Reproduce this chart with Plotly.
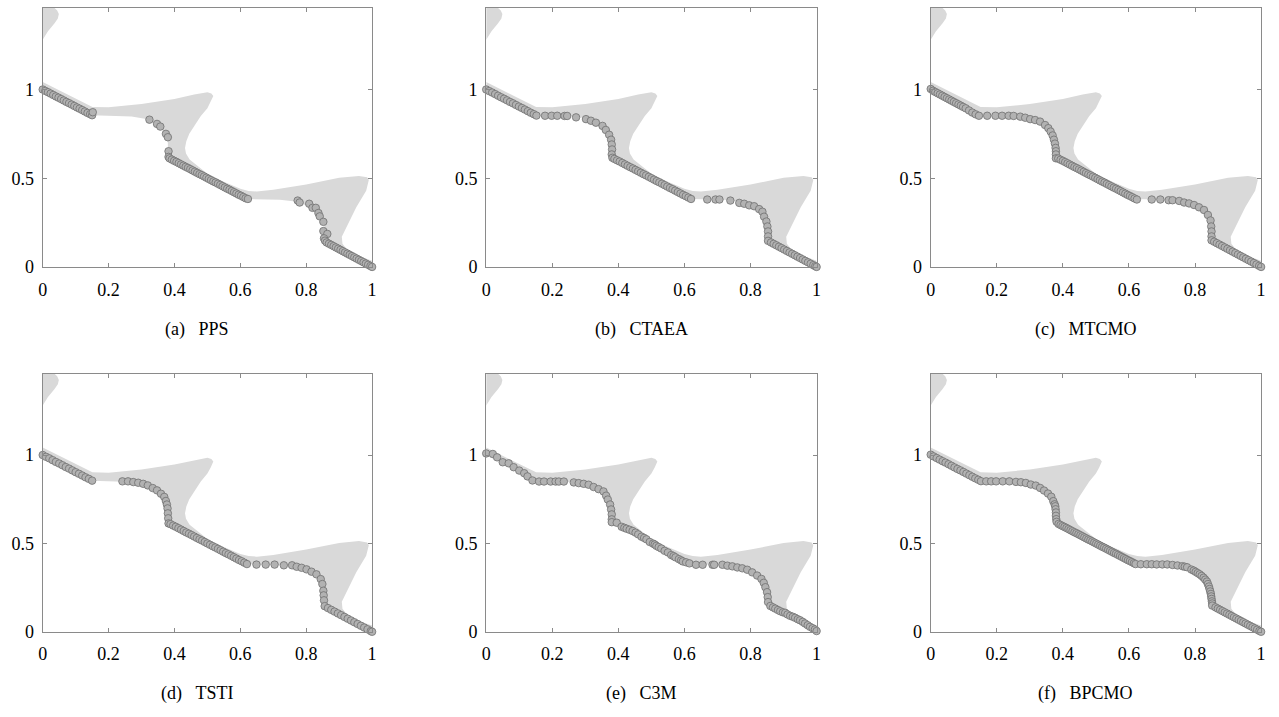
import plotly.graph_objects as go

# ---------------- data ----------------
X_TICKS = [0, 0.2, 0.4, 0.6, 0.8, 1]
X_TICK_TEXT = ["0", "0.2", "0.4", "0.6", "0.8", "1"]
Y_TICKS = [0, 0.5, 1]
Y_TICK_TEXT = ["0", "0.5", "1"]

# feasible region (grey) boundary
REGION_X = [0.0, 0.05, 0.10, 0.151, 0.20, 0.30, 0.40, 0.46, 0.50, 0.512, 0.518, 0.51, 0.50, 0.48,
            0.462, 0.445, 0.436, 0.432, 0.435, 0.446, 0.50, 0.55, 0.60, 0.625, 0.65, 0.70, 0.80, 0.90,
            0.96, 0.985, 0.99, 0.982, 0.952, 0.922, 0.908, 0.91, 0.925, 0.962, 1.0, 1.0,
            0.855, 0.855, 0.85, 0.84, 0.82, 0.79, 0.76, 0.72, 0.62, 0.38, 0.38, 0.375, 0.36, 0.34,
            0.31, 0.27, 0.20, 0.15, 0.0]
REGION_Y = [1.042, 0.995, 0.948, 0.902, 0.900, 0.918, 0.946, 0.972, 0.985, 0.978, 0.963, 0.93, 0.895, 0.85,
            0.80, 0.75, 0.708, 0.67, 0.64, 0.606, 0.525, 0.48, 0.44, 0.428, 0.425, 0.435, 0.465, 0.502,
            0.513, 0.505, 0.49, 0.43, 0.337, 0.226, 0.17, 0.13, 0.095, 0.06, 0.035, 0.0,
            0.145, 0.24, 0.27, 0.30, 0.33, 0.355, 0.37, 0.378, 0.383, 0.617, 0.70, 0.74, 0.78, 0.81,
            0.835, 0.848, 0.853, 0.855, 1.0]
TONGUE_X = [0.0, 0.016, 0.036, 0.046, 0.049, 0.044, 0.03, 0.0]
TONGUE_Y = [1.28, 1.328, 1.374, 1.40, 1.425, 1.445, 1.47, 1.47]

# obtained solutions
PPS_X = [0, 0.008, 0.016, 0.024, 0.032, 0.04, 0.048, 0.056, 0.064, 0.072, 0.08, 0.088, 0.096, 0.104,
         0.112, 0.12, 0.128, 0.136, 0.144, 0.15, 0.152,
         0.324, 0.347, 0.357, 0.374, 0.38, 0.382, 0.382,
         0.385, 0.392, 0.399, 0.406, 0.413, 0.420, 0.427, 0.434, 0.441, 0.448, 0.455, 0.462, 0.469,
         0.476, 0.483, 0.490, 0.497, 0.504, 0.511, 0.518, 0.525, 0.532, 0.539, 0.546, 0.553, 0.560,
         0.567, 0.574, 0.581, 0.588, 0.595, 0.602, 0.609, 0.616, 0.623,
         0.774, 0.78, 0.809, 0.819, 0.829, 0.837, 0.841, 0.852, 0.852, 0.864, 0.854, 0.857,
         0.862, 0.869, 0.876, 0.883, 0.890, 0.897, 0.904, 0.911, 0.918, 0.925, 0.932, 0.939, 0.946,
         0.953, 0.960, 0.967, 0.974, 0.981, 0.988, 0.995, 1.0]
PPS_Y = [1.0, 0.992, 0.985, 0.977, 0.969, 0.961, 0.954, 0.946, 0.938, 0.930, 0.923, 0.915, 0.907, 0.899,
         0.892, 0.884, 0.876, 0.868, 0.861, 0.855, 0.872,
         0.83, 0.806, 0.791, 0.75, 0.731, 0.652, 0.62,
         0.612, 0.605, 0.598, 0.592, 0.585, 0.578, 0.571, 0.564, 0.558, 0.551, 0.544, 0.537, 0.530,
         0.523, 0.517, 0.510, 0.503, 0.496, 0.489, 0.482, 0.476, 0.469, 0.462, 0.455, 0.448, 0.441,
         0.435, 0.428, 0.421, 0.414, 0.407, 0.401, 0.394, 0.387, 0.383,
         0.374, 0.363, 0.356, 0.333, 0.333, 0.304, 0.285, 0.254, 0.202, 0.186, 0.161, 0.148,
         0.138, 0.131, 0.124, 0.117, 0.110, 0.103, 0.096, 0.089, 0.082, 0.075, 0.068, 0.061, 0.054,
         0.047, 0.040, 0.033, 0.026, 0.019, 0.012, 0.005, 0.0]

CTAEA_X = [0, 0.009, 0.018, 0.027, 0.036, 0.045, 0.054, 0.063, 0.072, 0.081, 0.090, 0.099, 0.108,
           0.117, 0.126, 0.135, 0.144, 0.152,
           0.178, 0.198, 0.215, 0.237, 0.245, 0.272,
           0.302, 0.317, 0.332, 0.352, 0.362, 0.372, 0.378, 0.38, 0.381, 0.38, 0.382,
           0.388, 0.396, 0.404, 0.412, 0.420, 0.428, 0.436, 0.444, 0.452, 0.460, 0.468, 0.476, 0.484,
           0.492, 0.500, 0.508, 0.516, 0.524, 0.532, 0.540, 0.548, 0.556, 0.564, 0.572, 0.580, 0.588,
           0.596, 0.604, 0.612, 0.620,
           0.669, 0.694, 0.706, 0.739, 0.766, 0.781, 0.796, 0.811, 0.826, 0.836, 0.841, 0.848, 0.851,
           0.853, 0.853, 0.853,
           0.862, 0.870, 0.878, 0.886, 0.894, 0.902, 0.910, 0.918, 0.926, 0.934, 0.942, 0.950, 0.958,
           0.966, 0.974, 0.982, 0.990, 0.996, 1.0]
CTAEA_Y = [1.0, 0.991, 0.983, 0.974, 0.965, 0.956, 0.948, 0.939, 0.930, 0.922, 0.913, 0.904, 0.896,
           0.887, 0.878, 0.869, 0.861, 0.853,
           0.852, 0.852, 0.852, 0.851, 0.851, 0.843,
           0.833, 0.824, 0.813, 0.795, 0.772, 0.745, 0.717, 0.69, 0.662, 0.634, 0.615,
           0.609, 0.601, 0.594, 0.586, 0.578, 0.570, 0.562, 0.555, 0.547, 0.539, 0.531, 0.523, 0.516,
           0.508, 0.500, 0.492, 0.484, 0.477, 0.469, 0.461, 0.453, 0.445, 0.438, 0.430, 0.422, 0.414,
           0.406, 0.399, 0.391, 0.383,
           0.38, 0.38, 0.38, 0.374, 0.361, 0.356, 0.347, 0.342, 0.326, 0.311, 0.283, 0.256, 0.228,
           0.2, 0.172, 0.147,
           0.138, 0.130, 0.122, 0.114, 0.106, 0.098, 0.090, 0.082, 0.074, 0.066, 0.058, 0.050, 0.042,
           0.034, 0.026, 0.018, 0.010, 0.004, 0.0]

MTCMO_X = [0, 0.007, 0.014, 0.021, 0.028, 0.035, 0.042, 0.049, 0.056, 0.063, 0.070, 0.077, 0.084,
           0.091, 0.098, 0.106, 0.116, 0.126, 0.136, 0.146,
           0.171, 0.196, 0.216, 0.236, 0.251, 0.271, 0.286, 0.301, 0.316, 0.331, 0.346, 0.356, 0.363,
           0.369, 0.373, 0.376, 0.378, 0.379, 0.379, 0.379,
           0.386, 0.393, 0.400, 0.407, 0.414, 0.421, 0.428, 0.435, 0.442, 0.449, 0.456, 0.463, 0.470,
           0.477, 0.484, 0.491, 0.498, 0.505, 0.512, 0.519, 0.526, 0.533, 0.540, 0.547, 0.554, 0.561,
           0.568, 0.575, 0.582, 0.589, 0.596, 0.603, 0.610, 0.617, 0.624,
           0.669, 0.695, 0.72, 0.732, 0.752, 0.767, 0.782, 0.797, 0.812, 0.827, 0.839, 0.847, 0.849,
           0.850, 0.850, 0.850,
           0.858, 0.866, 0.874, 0.882, 0.890, 0.898, 0.906, 0.914, 0.922, 0.930, 0.938, 0.946, 0.954,
           0.962, 0.970, 0.978, 0.986, 0.994, 1.0]
MTCMO_Y = [1.003, 0.993, 0.986, 0.979, 0.972, 0.965, 0.958, 0.951, 0.944, 0.937, 0.930, 0.923, 0.916,
           0.909, 0.902, 0.894, 0.882, 0.870, 0.860, 0.852,
           0.852, 0.852, 0.852, 0.852, 0.851, 0.847, 0.841, 0.833, 0.828, 0.819, 0.800, 0.782, 0.763,
           0.741, 0.717, 0.695, 0.671, 0.652, 0.634, 0.612,
           0.611, 0.604, 0.598, 0.591, 0.584, 0.577, 0.570, 0.563, 0.557, 0.550, 0.543, 0.536, 0.529,
           0.522, 0.516, 0.509, 0.502, 0.495, 0.488, 0.481, 0.475, 0.468, 0.461, 0.454, 0.447, 0.441,
           0.434, 0.427, 0.420, 0.413, 0.406, 0.400, 0.393, 0.386, 0.380,
           0.38, 0.38, 0.376, 0.376, 0.372, 0.363, 0.358, 0.349, 0.336, 0.321, 0.293, 0.262, 0.228,
           0.200, 0.172, 0.150,
           0.142, 0.134, 0.126, 0.118, 0.110, 0.102, 0.094, 0.086, 0.078, 0.070, 0.062, 0.054, 0.046,
           0.038, 0.030, 0.022, 0.014, 0.006, 0.0]

TSTI_X = [0, 0.01, 0.02, 0.03, 0.04, 0.05, 0.06, 0.07, 0.08, 0.09, 0.10, 0.11, 0.12, 0.13, 0.14, 0.15,
          0.242, 0.259, 0.275, 0.29, 0.305, 0.319, 0.334, 0.347, 0.359, 0.369, 0.374, 0.377, 0.379,
          0.38, 0.381, 0.382,
          0.388, 0.396, 0.404, 0.412, 0.420, 0.428, 0.436, 0.444, 0.452, 0.460, 0.468, 0.476, 0.484,
          0.492, 0.500, 0.508, 0.516, 0.524, 0.532, 0.540, 0.548, 0.556, 0.564, 0.572, 0.580, 0.588,
          0.596, 0.604, 0.612, 0.620,
          0.649, 0.677, 0.704, 0.732, 0.757, 0.771, 0.786, 0.801, 0.816, 0.831, 0.844, 0.849, 0.852,
          0.853, 0.854, 0.856,
          0.866, 0.876, 0.886, 0.896, 0.906, 0.916, 0.926, 0.936, 0.946, 0.956, 0.966, 0.976, 0.986,
          0.996, 1.0]
TSTI_Y = [1.0, 0.990, 0.981, 0.971, 0.961, 0.952, 0.942, 0.932, 0.923, 0.913, 0.903, 0.894, 0.884,
          0.874, 0.865, 0.855,
          0.851, 0.851, 0.847, 0.843, 0.837, 0.828, 0.813, 0.8, 0.781, 0.763, 0.74, 0.72, 0.698,
          0.67, 0.642, 0.613,
          0.609, 0.601, 0.594, 0.586, 0.578, 0.570, 0.562, 0.555, 0.547, 0.539, 0.531, 0.523, 0.516,
          0.508, 0.500, 0.492, 0.484, 0.477, 0.469, 0.461, 0.453, 0.445, 0.438, 0.430, 0.422, 0.414,
          0.406, 0.399, 0.391, 0.383,
          0.38, 0.38, 0.38, 0.376, 0.376, 0.368, 0.362, 0.353, 0.34, 0.325, 0.298, 0.27, 0.232,
          0.206, 0.178, 0.145,
          0.134, 0.124, 0.114, 0.104, 0.094, 0.084, 0.074, 0.064, 0.054, 0.044, 0.034, 0.024, 0.014,
          0.004, 0.0]

C3M_X = [0, 0.02, 0.033, 0.05, 0.068, 0.083, 0.1, 0.115, 0.125, 0.14,
         0.16, 0.175, 0.195, 0.21, 0.22, 0.235, 0.265, 0.28, 0.295, 0.31, 0.325, 0.34, 0.355, 0.363,
         0.368, 0.375, 0.378, 0.38, 0.38, 0.38,
         0.395, 0.41, 0.418, 0.425, 0.434, 0.443, 0.452, 0.46, 0.47, 0.478, 0.485, 0.495, 0.505,
         0.51, 0.515, 0.522, 0.53, 0.54, 0.55, 0.56, 0.567, 0.573, 0.583, 0.59, 0.595, 0.605, 0.615,
         0.635,
         0.655, 0.685, 0.69, 0.715, 0.73, 0.745, 0.76, 0.775, 0.79, 0.805, 0.82, 0.833, 0.84, 0.845,
         0.85, 0.852, 0.853, 0.86,
         0.868, 0.875, 0.883, 0.89, 0.898, 0.905, 0.912, 0.92, 0.928, 0.935, 0.943, 0.95, 0.958,
         0.965, 0.973, 0.98, 0.988, 0.995, 1.0]
C3M_Y = [1.009, 1.006, 0.987, 0.959, 0.953, 0.931, 0.912, 0.897, 0.879, 0.856,
         0.85, 0.85, 0.85, 0.85, 0.85, 0.85, 0.845, 0.841, 0.837, 0.832, 0.819, 0.807, 0.794, 0.77,
         0.748, 0.72, 0.692, 0.664, 0.636, 0.62,
         0.617, 0.594, 0.588, 0.583, 0.577, 0.570, 0.561, 0.551, 0.538, 0.531, 0.523, 0.508, 0.499,
         0.494, 0.486, 0.479, 0.471, 0.458, 0.449, 0.434, 0.428, 0.421, 0.411, 0.404, 0.398, 0.393,
         0.387, 0.379,
         0.379, 0.379, 0.379, 0.379, 0.374, 0.37, 0.364, 0.359, 0.351, 0.336, 0.318, 0.299, 0.277,
         0.252, 0.224, 0.196, 0.168, 0.146,
         0.138, 0.131, 0.123, 0.116, 0.11, 0.107, 0.098, 0.09, 0.085, 0.079, 0.071, 0.065, 0.056,
         0.047, 0.037, 0.028, 0.02, 0.013, 0.004]

BPCMO_X = [0, 0.009, 0.018, 0.027, 0.036, 0.045, 0.054, 0.063, 0.072, 0.081, 0.090, 0.099, 0.108,
           0.117, 0.126, 0.135, 0.144, 0.152,
           0.168, 0.183, 0.198, 0.218, 0.238, 0.258, 0.273, 0.288, 0.303, 0.318, 0.331, 0.343, 0.355,
           0.365, 0.371, 0.375, 0.377, 0.378, 0.379, 0.379, 0.38, 0.381,
           0.387, 0.393, 0.399, 0.405, 0.411, 0.417, 0.423, 0.429, 0.435, 0.441, 0.447, 0.453, 0.459,
           0.465, 0.471, 0.477, 0.483, 0.489, 0.495, 0.501, 0.507, 0.513, 0.519, 0.525, 0.531, 0.537,
           0.543, 0.549, 0.555, 0.561, 0.567, 0.573, 0.579, 0.585, 0.591, 0.597, 0.603, 0.609, 0.615,
           0.620,
           0.636, 0.654, 0.669, 0.684, 0.701, 0.716, 0.732, 0.747, 0.762, 0.769, 0.776, 0.789, 0.796,
           0.802, 0.808, 0.814, 0.82, 0.826, 0.831, 0.836, 0.839, 0.842, 0.844, 0.846, 0.848, 0.849,
           0.85, 0.851, 0.852, 0.852,
           0.862, 0.869, 0.876, 0.883, 0.890, 0.897, 0.904, 0.911, 0.918, 0.925, 0.932, 0.939, 0.946,
           0.953, 0.960, 0.967, 0.974, 0.981, 0.988, 0.995, 1.0]
BPCMO_Y = [1.002, 0.992, 0.983, 0.974, 0.965, 0.957, 0.948, 0.939, 0.930, 0.921, 0.913, 0.904, 0.895,
           0.886, 0.877, 0.868, 0.860, 0.852,
           0.851, 0.851, 0.851, 0.851, 0.851, 0.848, 0.846, 0.842, 0.833, 0.827, 0.814, 0.799, 0.782,
           0.764, 0.739, 0.721, 0.71, 0.693, 0.675, 0.656, 0.637, 0.622,
           0.610, 0.604, 0.598, 0.593, 0.587, 0.581, 0.575, 0.569, 0.563, 0.558, 0.552, 0.546, 0.540,
           0.534, 0.528, 0.522, 0.517, 0.511, 0.505, 0.499, 0.493, 0.487, 0.481, 0.476, 0.470, 0.464,
           0.458, 0.452, 0.446, 0.441, 0.435, 0.429, 0.423, 0.417, 0.411, 0.405, 0.400, 0.394, 0.388,
           0.383,
           0.382, 0.382, 0.382, 0.381, 0.381, 0.381, 0.378, 0.375, 0.371, 0.368, 0.365, 0.352, 0.346,
           0.339, 0.332, 0.325, 0.316, 0.306, 0.295, 0.284, 0.27, 0.256, 0.242, 0.228, 0.214, 0.2,
           0.186, 0.172, 0.16, 0.148,
           0.138, 0.131, 0.124, 0.117, 0.110, 0.103, 0.096, 0.089, 0.082, 0.075, 0.068, 0.061, 0.054,
           0.047, 0.040, 0.033, 0.026, 0.019, 0.012, 0.005, 0.0]

GAP = "\u00a0\u00a0\u00a0"
CAPTIONS = ["(a)" + GAP + "PPS", "(b)" + GAP + "CTAEA", "(c)" + GAP + "MTCMO",
            "(d)" + GAP + "TSTI", "(e)" + GAP + "C3M", "(f)" + GAP + "BPCMO"]
SERIES = [(PPS_X, PPS_Y), (CTAEA_X, CTAEA_Y), (MTCMO_X, MTCMO_Y),
          (TSTI_X, TSTI_Y), (C3M_X, C3M_Y), (BPCMO_X, BPCMO_Y)]

# ---------------- layout / style ----------------
W, H = 1279, 717
COLS = [(38, 370), (485, 818), (933, 1266)]   # pixel extents of plot areas
ROWS = [(8, 270.7), (379, 640.7)]
CAPTION_SHIFT = -10                           # caption centre offset from axes centre (px)
Y_MAX = 1.46
FONT = "Liberation Serif"
AXIS_COLOR = "#8a8a8a"
REGION_COLOR = "#d9d9d9"
DOT_FILL = "#b2b2b2"
DOT_LINE = "#707070"

fig = go.Figure()
layout = dict(width=W, height=H, margin=dict(l=0, r=0, t=0, b=0),
              paper_bgcolor="white", plot_bgcolor="white", showlegend=False,
              font=dict(family=FONT, size=17, color="black"))
annotations = []
for i, ((xs, ys), cap) in enumerate(zip(SERIES, CAPTIONS)):
    r, c = divmod(i, 3)
    sfx = "" if i == 0 else str(i + 1)
    xa, ya = "x" + sfx, "y" + sfx
    x0, x1 = COLS[c]
    t0, b0 = ROWS[r]
    for rx, ry in ((REGION_X, REGION_Y), (TONGUE_X, TONGUE_Y)):
        fig.add_trace(go.Scatter(x=rx, y=ry, mode="lines", fill="toself", fillcolor=REGION_COLOR,
                                 line=dict(width=0, color=REGION_COLOR), hoverinfo="skip",
                                 xaxis=xa, yaxis=ya))
    fig.add_trace(go.Scatter(x=xs, y=ys, mode="markers", cliponaxis=False,
                             marker=dict(size=7.5, color=DOT_FILL, line=dict(color=DOT_LINE, width=0.8)),
                             xaxis=xa, yaxis=ya))
    common = dict(ticks="inside", ticklen=4, tickwidth=1, tickcolor=AXIS_COLOR, showline=True,
                  linecolor=AXIS_COLOR, linewidth=1, mirror="ticks", showgrid=False, zeroline=False,
                  tickfont=dict(family=FONT, size=18, color="black"), fixedrange=True)
    layout["xaxis" + sfx] = dict(domain=[x0 / W, x1 / W], range=[0, 1], anchor=ya,
                                 tickvals=X_TICKS, ticktext=X_TICK_TEXT, ticklabelstandoff=6, **common)
    layout["yaxis" + sfx] = dict(domain=[(H - b0) / H, (H - t0) / H], range=[0, Y_MAX], anchor=xa,
                                 tickvals=Y_TICKS, ticktext=Y_TICK_TEXT, ticklabelstandoff=4, **common)
    annotations.append(dict(text=cap, xref="paper", yref="paper",
                            x=((x0 + x1) / 2 + CAPTION_SHIFT) / W,
                            y=(H - (b0 + 63)) / H, xanchor="center", yanchor="middle",
                            showarrow=False, font=dict(family=FONT, size=18, color="black")))
layout["annotations"] = annotations
fig.update_layout(**layout)
fig.write_html("out.html")
